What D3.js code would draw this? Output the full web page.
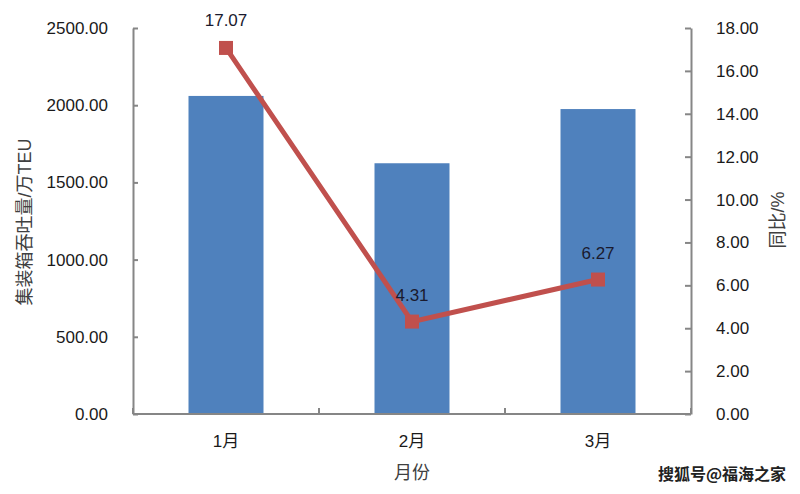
<!DOCTYPE html>
<html><head><meta charset="utf-8">
<script src="https://cdn.jsdelivr.net/npm/d3@7"></script>
<style>body{margin:0;background:#fff}svg{display:block}</style>
</head><body>
<script>
const months = ["1月","2月","3月"];
const throughput = [2060, 1624, 1975];
const yoy = [17.07, 4.31, 6.27];
const leftTicks = [0,500,1000,1500,2000,2500];
const rightTicks = [0,2,4,6,8,10,12,14,16,18];

const W=800,H=494;
const L=133,R=691,T=28,B=414;
const font="'Liberation Sans','Noto Sans CJK SC',sans-serif";
const svg=d3.select("body").append("svg").attr("width",W).attr("height",H)
  .style("font-family",font);

const x=d3.scaleBand().domain(months).range([L,R]).paddingInner(0.6).paddingOuter(0.3);
const xb=d3.scaleBand().domain(months).range([L,R]);
const yL=d3.scaleLinear().domain([0,2500]).range([B,T]);
const yR=d3.scaleLinear().domain([0,18]).range([B,T]);
const axisColor="#868686";

// bars
svg.selectAll("rect.bar").data(throughput).join("rect")
  .attr("x",(d,i)=>xb(months[i])+xb.bandwidth()/2-37.5)
  .attr("width",75)
  .attr("y",d=>yL(d)).attr("height",d=>B-yL(d))
  .attr("fill","#4F81BD");

// axes
const gL=svg.append("g").attr("transform",`translate(${L},0)`)
  .call(d3.axisLeft(yL).tickValues(leftTicks).tickFormat(d3.format(".2f")).tickSizeInner(-5).tickSizeOuter(0).tickPadding(25));
const gR=svg.append("g").attr("transform",`translate(${R},0)`)
  .call(d3.axisRight(yR).tickValues(rightTicks).tickFormat(d3.format(".2f")).tickSizeInner(-6).tickSizeOuter(0).tickPadding(25));
[gL,gR].forEach(g=>{
  g.select(".domain").attr("stroke",axisColor).attr("stroke-width",2);
  g.selectAll(".tick line").attr("stroke",axisColor).attr("stroke-width",2);
  g.selectAll(".tick text").attr("fill","#1a1a1a").style("font-size","17px").style("font-family",font);
});
// x axis
svg.append("line").attr("x1",L).attr("x2",R).attr("y1",B).attr("y2",B)
  .attr("stroke",axisColor).attr("stroke-width",2);
const bounds=[...months.map(m=>xb(m)),R];
svg.selectAll("line.xt").data(bounds).join("line")
  .attr("x1",d=>d).attr("x2",d=>d).attr("y1",B).attr("y2",B-6)
  .attr("stroke",axisColor).attr("stroke-width",2);
svg.selectAll("text.xl").data(months).join("text")
  .attr("x",d=>xb(d)+xb.bandwidth()/2).attr("y",447)
  .attr("text-anchor","middle").attr("fill","#1a1a1a").style("font-size","17px").text(d=>d);

// titles
svg.append("text").attr("transform",`translate(31,222) rotate(-90)`)
  .attr("text-anchor","middle").attr("fill","#404040").style("font-size","18px").text("集装箱吞吐量/万TEU");
svg.append("text").attr("transform",`translate(784,220) rotate(-90)`)
  .attr("text-anchor","middle").attr("fill","#404040").style("font-size","18px").text("同比/%");
svg.append("text").attr("x",412).attr("y",479).attr("text-anchor","middle")
  .attr("fill","#404040").style("font-size","18px").text("月份");

// line
const cx=i=>xb(months[i])+xb.bandwidth()/2;
svg.append("path").datum(yoy)
  .attr("d",d3.line().x((d,i)=>cx(i)).y(d=>yR(d)))
  .attr("fill","none").attr("stroke","#C0504D").attr("stroke-width",5);
svg.selectAll("rect.mk").data(yoy).join("rect")
  .attr("x",(d,i)=>cx(i)-7).attr("y",d=>yR(d)-7).attr("width",14).attr("height",14)
  .attr("fill","#C0504D");
const lblOff=[-22,-21,-21];
svg.selectAll("text.lbl").data(yoy).join("text")
  .attr("x",(d,i)=>cx(i)).attr("y",(d,i)=>yR(d)+lblOff[i])
  .attr("text-anchor","middle").attr("fill","#1a1a2e").style("font-size","17px")
  .text(d=>d.toFixed(2));

// watermark
svg.append("text").attr("x",786).attr("y",480).attr("text-anchor","end")
  .attr("fill","#222").attr("stroke","#fff").attr("stroke-width",0.6).attr("paint-order","stroke")
  .style("font-size","16px").style("font-weight","bold").style("font-family","'Noto Sans CJK SC',sans-serif")
  .text("搜狐号@福海之家");
</script>
</body></html>
